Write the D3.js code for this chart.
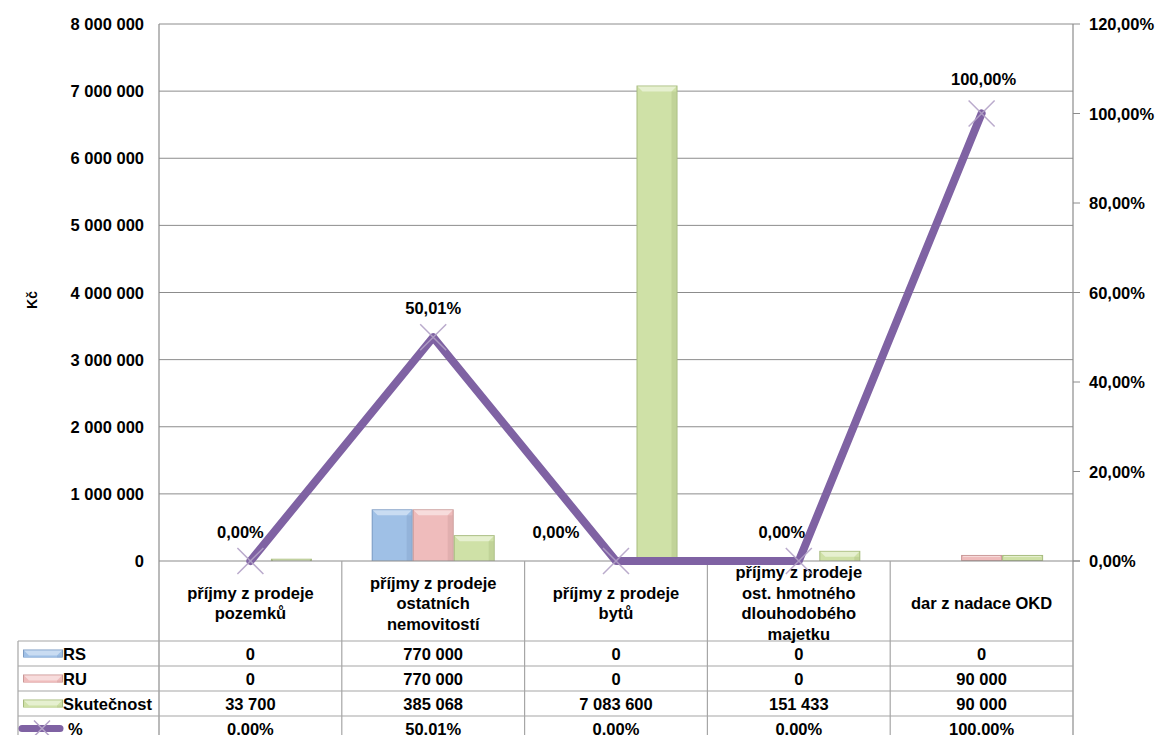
<!DOCTYPE html>
<html lang="cs">
<head>
<meta charset="UTF-8">
<title>Kapitálové příjmy</title>
<script src="https://cdn.jsdelivr.net/npm/d3@7/dist/d3.min.js"></script>
<style>
    body { margin: 0; background: #fff; }
    svg text { font-family: "Liberation Sans", Arial, sans-serif; font-weight: bold; fill: #000; }
</style>
</head>
<body>
<svg id="chart" width="1158" height="735"></svg>
<script>
    // data
    var categories = [
        "příjmy z prodeje\npozemků",
        "příjmy z prodeje\nostatních\nnemovitostí",
        "příjmy z prodeje\nbytů",
        "příjmy z prodeje\nost. hmotného\ndlouhodobého\nmajetku",
        "dar z nadace OKD"
    ];
    var seriesNames = ["RS", "RU", "Skutečnost"];
    var rs = [0, 770000, 0, 0, 0];
    var ru = [0, 770000, 0, 0, 90000];
    var skutecnost = [33700, 385068, 7083600, 151433, 90000];
    var percent = [0, 50.01, 0, 0, 100];
    var leftTicks = [0, 1000000, 2000000, 3000000, 4000000, 5000000, 6000000, 7000000, 8000000];
    var rightTicks = [0, 20, 40, 60, 80, 100, 120];

    var seriesValues = [rs, ru, skutecnost];
    var colors = [
        { main: "#9fc0e6", light: "#c9dcf2", edge: "#7d9cc4" },
        { main: "#efbcbc", light: "#f7dcdc", edge: "#c99897" },
        { main: "#cfe1a7", light: "#e6f0d0", edge: "#a7bb7e" }
    ];
    var lineColor = "#7f62a3";
    var markerColor = "#b3a2c7";
    var gridColor = "#8c8c8c";
    var tableColor = "#a6a6a6";
    var fs = "16.5px";

    var plotL = 159, plotR = 1073, plotT = 24, plotB = 561;
    var tableL = 18, labelRowB = 641, rowH = 25;

    var svg = d3.select("#chart");

    var x = d3.scaleBand().domain(d3.range(categories.length)).range([plotL, plotR]);
    var groupW = x.bandwidth() * 0.673;
    var xs = d3.scaleBand().domain(d3.range(seriesNames.length))
        .range([(x.bandwidth() - groupW) / 2, (x.bandwidth() + groupW) / 2]);
    var y = d3.scaleLinear().domain([0, 8000000]).range([plotB, plotT]);
    var y2 = d3.scaleLinear().domain([0, 120]).range([plotB, plotT]);

    function fmtNum(v) {
        return d3.format(",")(v).replace(/,/g, " ");
    }
    function fmtPct(v) {
        return v.toFixed(2).replace(".", ",") + "%";
    }

    // gridlines
    svg.append("g").selectAll("line")
        .data(leftTicks.slice(1))
        .enter().append("line")
        .attr("x1", plotL).attr("x2", plotR)
        .attr("y1", d => y(d)).attr("y2", d => y(d))
        .attr("stroke", gridColor).attr("stroke-width", 1);

    // left axis labels
    svg.append("g").selectAll("text")
        .data(leftTicks)
        .enter().append("text")
        .attr("x", 144).attr("y", d => y(d) + 6)
        .attr("text-anchor", "end")
        .style("font-size", fs)
        .text(d => fmtNum(d));

    // right axis ticks + labels
    svg.append("g").selectAll("line")
        .data(rightTicks)
        .enter().append("line")
        .attr("x1", plotR).attr("x2", plotR + 7)
        .attr("y1", d => y2(d)).attr("y2", d => y2(d))
        .attr("stroke", gridColor);
    svg.append("g").selectAll("text")
        .data(rightTicks)
        .enter().append("text")
        .attr("x", 1089).attr("y", d => y2(d) + 6)
        .style("font-size", fs)
        .text(d => fmtPct(d));

    // axis title
    svg.append("text")
        .attr("transform", "translate(37, 300) rotate(-90)")
        .attr("text-anchor", "middle")
        .style("font-size", "14px")
        .text("Kč");

    // bevelled bar
    function bevel(g, bx, by, w, h, c) {
        if (h <= 0) return;
        if (h < 8) {
            g.append("rect").attr("x", bx + 0.5).attr("y", by + 0.5)
                .attr("width", w - 1).attr("height", Math.max(h - 1, 1))
                .attr("fill", c.main).attr("stroke", c.edge).attr("stroke-width", 1);
            g.append("line").attr("x1", bx + 2).attr("x2", bx + w - 2)
                .attr("y1", by + 1.5).attr("y2", by + 1.5)
                .attr("stroke", c.light).attr("stroke-width", 1);
            return;
        }
        var b = 5;
        g.append("rect").attr("x", bx).attr("y", by).attr("width", w).attr("height", h)
            .attr("fill", c.edge);
        g.append("rect").attr("x", bx + 1).attr("y", by + 1).attr("width", w - 2).attr("height", h - 1)
            .attr("fill", c.main);
        g.append("polygon")
            .attr("points", [[bx + 1, by + 1], [bx + w - 1, by + 1], [bx + w - 1 - b, by + 1 + b], [bx + 1 + b, by + 1 + b]].join(" "))
            .attr("fill", c.light);
        g.append("rect").attr("x", bx + w - 1 - b).attr("y", by + 1 + b).attr("width", b).attr("height", h - 1 - b)
            .attr("fill", c.edge).attr("opacity", 0.35);
    }

    var bars = svg.append("g");
    seriesValues.forEach(function (vals, s) {
        vals.forEach(function (v, i) {
            var bx = x(i) + xs(s);
            bevel(bars, bx, y(v), xs.bandwidth(), plotB - y(v), colors[s]);
        });
    });

    // axis lines + table grid
    var tableB = labelRowB + rowH * 4;
    var grid = svg.append("g").attr("stroke", tableColor).attr("stroke-width", 1.2);
    grid.append("line").attr("x1", plotL).attr("x2", plotR + 7).attr("y1", plotB).attr("y2", plotB).attr("stroke", gridColor);
    grid.append("line").attr("x1", plotL).attr("x2", plotL).attr("y1", plotT).attr("y2", tableB).attr("stroke", gridColor);
    grid.append("line").attr("x1", plotR).attr("x2", plotR).attr("y1", plotT).attr("y2", tableB).attr("stroke", gridColor);
    grid.selectAll(".vline")
        .data(d3.range(1, categories.length))
        .enter().append("line")
        .attr("x1", d => x(d)).attr("x2", d => x(d))
        .attr("y1", plotB).attr("y2", tableB);
    grid.append("line").attr("x1", tableL).attr("x2", tableL).attr("y1", labelRowB).attr("y2", tableB);
    grid.selectAll(".hline")
        .data(d3.range(5))
        .enter().append("line")
        .attr("x1", tableL).attr("x2", plotR)
        .attr("y1", d => labelRowB + d * rowH).attr("y2", d => labelRowB + d * rowH);

    // category labels
    var lineH = 20.5;
    categories.forEach(function (c, i) {
        var lines = c.split("\n");
        var t = svg.append("text")
            .attr("text-anchor", "middle")
            .style("font-size", fs);
        lines.forEach(function (l, k) {
            t.append("tspan")
                .attr("x", x(i) + x.bandwidth() / 2)
                .attr("y", (plotB + labelRowB) / 2 + 8 + (k - (lines.length - 1) / 2) * lineH)
                .text(l);
        });
    });

    // table values
    var rows = [rs, ru, skutecnost, percent];
    rows.forEach(function (vals, r) {
        svg.append("g").selectAll("text")
            .data(vals)
            .enter().append("text")
            .attr("x", (d, i) => x(i) + x.bandwidth() / 2)
            .attr("y", labelRowB + r * rowH + rowH / 2 + 6)
            .attr("text-anchor", "middle")
            .style("font-size", fs)
            .text(d => r === 3 ? fmtPct(d).replace(",", ".") : fmtNum(d));
    });

    // legend keys
    seriesNames.forEach(function (n, s) {
        var ky = labelRowB + s * rowH + rowH / 2;
        bevel(svg.append("g"), 23, ky - 4, 40, 8, colors[s]);
        svg.append("text").attr("x", 63).attr("y", ky + 6)
            .style("font-size", fs).text(n);
    });
    var py = labelRowB + 3 * rowH + rowH / 2;
    svg.append("line").attr("x1", 22).attr("x2", 60).attr("y1", py).attr("y2", py)
        .attr("stroke", lineColor).attr("stroke-width", 7).attr("stroke-linecap", "round");
    svg.append("path").attr("d", `M${34},${py - 8}L${50},${py + 8}M${34},${py + 8}L${50},${py - 8}`)
        .attr("stroke", markerColor).attr("stroke-width", 1.5);
    svg.append("text").attr("x", 68).attr("y", py + 6).style("font-size", fs).text("%");

    // percent line
    var cx = i => x(i) + x.bandwidth() / 2;
    var line = d3.line().x((d, i) => cx(i)).y(d => y2(d));
    svg.append("path")
        .datum(percent)
        .attr("d", line)
        .attr("fill", "none")
        .attr("stroke", lineColor)
        .attr("stroke-width", 8)
        .attr("stroke-linejoin", "round")
        .attr("stroke-linecap", "round");

    svg.append("g").selectAll("path")
        .data(percent)
        .enter().append("path")
        .attr("d", (d, i) => {
            var px = cx(i), pyy = y2(d), r = 13;
            return `M${px - r},${pyy - r}L${px + r},${pyy + r}M${px - r},${pyy + r}L${px + r},${pyy - r}`;
        })
        .attr("stroke", markerColor)
        .attr("stroke-width", 1.5)
        .attr("opacity", 0.9);

    // data labels (shifted where the original moved them)
    var labelDx = [-10, 0, -60, -17, 2];
    var labelDy = [-23, -23, -23, -23, -29];
    svg.append("g").selectAll("text")
        .data(percent)
        .enter().append("text")
        .attr("x", (d, i) => cx(i) + labelDx[i])
        .attr("y", (d, i) => y2(d) + labelDy[i])
        .attr("text-anchor", "middle")
        .style("font-size", fs)
        .text(d => fmtPct(d));
</script>
</body>
</html>
